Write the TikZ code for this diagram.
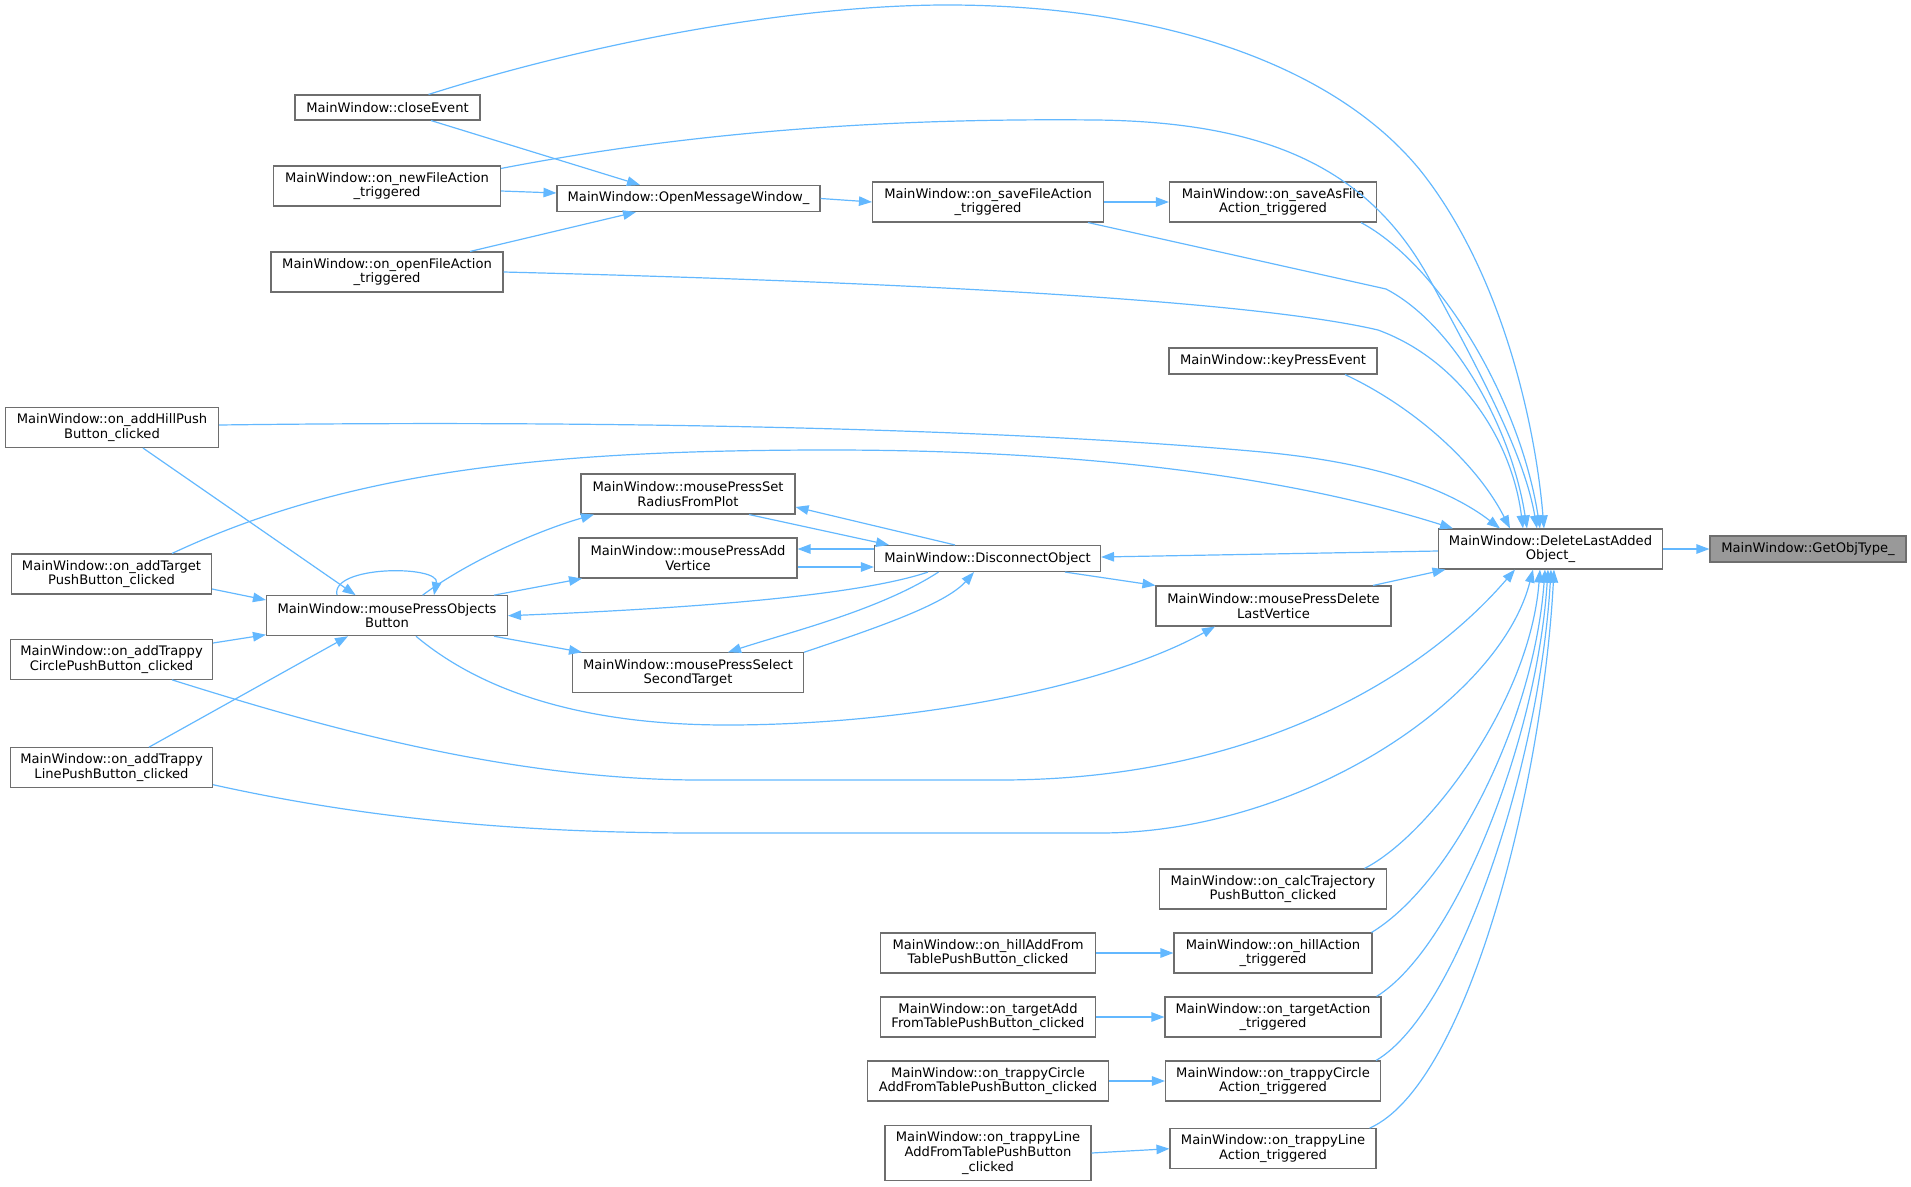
\documentclass[tikz,border=0pt]{standalone}
\usepackage{fontspec}
\setmainfont{DejaVu Sans}
\usetikzlibrary{arrows.meta}
\definecolor{edgec}{HTML}{63B8FF}
\definecolor{bordc}{HTML}{6E6E6E}
\definecolor{rootc}{HTML}{999999}
\begin{document}
\begin{tikzpicture}[x=1pt,y=-1pt,
  fn/.style={draw=bordc, line width=1.1pt, fill=white, inner sep=0pt, align=center,
    font=\fontsize{13.1}{14.6}\selectfont, text=black},
  ed/.style={draw=edgec, line width=1.2pt, -{Triangle[length=13pt,width=9.5pt]}, fill=none}]
\useasboundingbox (0,0) rectangle (1911,1186);
% nodes
\node[fn, fill=rootc, minimum width=196pt, minimum height=26pt] (get) at (1808,549) {MainWindow::GetObjType\_};
\node[fn, minimum width=224pt, minimum height=40pt] (del) at (1550.5,549) {MainWindow::DeleteLastAdded\\Object\_};
\node[fn, minimum width=185pt, minimum height=25pt] (close) at (387.5,107.5) {MainWindow::closeEvent};
\node[fn, minimum width=227pt, minimum height=40pt] (newf) at (387,186) {MainWindow::on\_newFileAction\\\_triggered};
\node[fn, minimum width=263pt, minimum height=26pt] (omw) at (688.5,198.5) {MainWindow::OpenMessageWindow\_};
\node[fn, minimum width=232pt, minimum height=40pt] (openf) at (387,272) {MainWindow::on\_openFileAction\\\_triggered};
\node[fn, minimum width=231pt, minimum height=40pt] (savef) at (988,202) {MainWindow::on\_saveFileAction\\\_triggered};
\node[fn, minimum width=207pt, minimum height=40pt] (saveas) at (1273,202) {MainWindow::on\_saveAsFile\\Action\_triggered};
\node[fn, minimum width=208pt, minimum height=26pt] (key) at (1273,361) {MainWindow::keyPressEvent};
\node[fn, minimum width=213pt, minimum height=40pt] (hill) at (112,427.5) {MainWindow::on\_addHillPush\\Button\_clicked};
\node[fn, minimum width=214pt, minimum height=40pt] (radius) at (688,494) {MainWindow::mousePressSet\\RadiusFromPlot};
\node[fn, minimum width=218pt, minimum height=40pt] (addv) at (688,558) {MainWindow::mousePressAdd\\Vertice};
\node[fn, minimum width=226pt, minimum height=26pt] (disc) at (987.5,558.5) {MainWindow::DisconnectObject};
\node[fn, minimum width=200pt, minimum height=40pt] (target) at (111.5,574) {MainWindow::on\_addTarget\\PushButton\_clicked};
\node[fn, minimum width=241pt, minimum height=40pt] (objb) at (387,615.7) {MainWindow::mousePressObjects\\Button};
\node[fn, minimum width=235pt, minimum height=40pt] (delv) at (1273.5,606) {MainWindow::mousePressDelete\\LastVertice};
\node[fn, minimum width=202pt, minimum height=40pt] (tcircle) at (111.5,659.3) {MainWindow::on\_addTrappy\\CirclePushButton\_clicked};
\node[fn, minimum width=231pt, minimum height=40pt] (select) at (688,672.8) {MainWindow::mousePressSelect\\SecondTarget};
\node[fn, minimum width=202pt, minimum height=40pt] (tline) at (111.5,767.7) {MainWindow::on\_addTrappy\\LinePushButton\_clicked};
\node[fn, minimum width=227pt, minimum height=40pt] (calc) at (1273,889) {MainWindow::on\_calcTrajectory\\PushButton\_clicked};
\node[fn, minimum width=215pt, minimum height=40pt] (hilltab) at (988,953) {MainWindow::on\_hillAddFrom\\TablePushButton\_clicked};
\node[fn, minimum width=198pt, minimum height=40pt] (hilla) at (1273,953) {MainWindow::on\_hillAction\\\_triggered};
\node[fn, minimum width=215pt, minimum height=40pt] (targtab) at (988,1017) {MainWindow::on\_targetAdd\\FromTablePushButton\_clicked};
\node[fn, minimum width=216pt, minimum height=40pt] (targa) at (1273,1017) {MainWindow::on\_targetAction\\\_triggered};
\node[fn, minimum width=241pt, minimum height=40pt] (tctab) at (988,1081) {MainWindow::on\_trappyCircle\\AddFromTablePushButton\_clicked};
\node[fn, minimum width=215pt, minimum height=40pt] (tca) at (1273,1081) {MainWindow::on\_trappyCircle\\Action\_triggered};
\node[fn, minimum width=206pt, minimum height=55pt] (tltab) at (988,1153) {MainWindow::on\_trappyLine\\AddFromTablePushButton\\\_clicked};
\node[fn, minimum width=206pt, minimum height=40pt] (tla) at (1273,1148.7) {MainWindow::on\_trappyLine\\Action\_triggered};
% edges
\draw[ed] (del.east) -- (get.west);
\draw[ed] ([xshift=41pt]close.north) .. controls (600,40) and (800,5) .. (947,5) .. controls (1150,5) and (1330,60) .. (1420,170) .. controls (1500,270) and (1535,420) .. ([xshift=-6.5pt]del.north);
\draw[ed] ([yshift=-3pt]newf.north east) .. controls (700,130) and (900,118) .. (1096,120) .. controls (1270,122) and (1370,170) .. (1430,280) .. controls (1490,390) and (1525,460) .. ([xshift=-13.5pt]del.north);
\draw[ed] ([xshift=100pt]savef.south) -- (1386,289) .. controls (1455,325) and (1512,430) .. ([xshift=-23.5pt]del.north);
\draw[ed] ([xshift=88pt]saveas.south) .. controls (1440,265) and (1520,400) .. ([xshift=-10.5pt]del.north);
\draw[ed] (openf.east) .. controls (900,282) and (1250,300) .. (1378,330) .. controls (1460,360) and (1512,440) .. ([xshift=-27.5pt]del.north);
\draw[ed] ([xshift=72pt]key.south) .. controls (1410,405) and (1475,460) .. ([xshift=-40.5pt]del.north);
\draw[ed] ([yshift=2.5pt]hill.east) .. controls (600,420) and (1000,428) .. (1262,452) .. controls (1380,463) and (1450,490) .. ([xshift=-50.5pt]del.north);
\draw[ed] ([xshift=60.5pt]target.north) .. controls (350,470) and (550,450) .. (830,450) .. controls (1100,450) and (1300,480) .. ([xshift=-97.5pt]del.north);
\draw[ed] ([xshift=60.5pt]tcircle.south) .. controls (300,720) and (500,780) .. (700,780) -- (1000,780) .. controls (1250,780) and (1420,680) .. ([xshift=-35.5pt]del.south);
\draw[ed] ([yshift=-17pt]tline.east) .. controls (350,815) and (500,833) .. (700,833) -- (1100,833) .. controls (1300,833) and (1500,700) .. ([xshift=-17.5pt]del.south);
\draw[ed] ([xshift=29pt]objb.south) .. controls (480,690) and (580,725) .. (727,725) .. controls (900,725) and (1100,690) .. ([xshift=-58.5pt]delv.south);
\draw[ed] ([xshift=91.5pt]calc.north) .. controls (1430,835) and (1530,700) .. ([xshift=-10.5pt]del.south);
\draw[ed] ([xshift=-1pt]hilla.north east) .. controls (1453,883) and (1534,720) .. ([xshift=-5.5pt]del.south);
\draw[ed] ([xshift=-5pt]targa.north east) .. controls (1456,947) and (1537,740) .. ([xshift=-2.5pt]del.south);
\draw[ed] ([xshift=-5pt]tca.north east) .. controls (1460,1011) and (1540,760) .. ([xshift=0.5pt]del.south);
\draw[ed] ([xshift=-7pt]tla.north east) .. controls (1469,1084) and (1543,780) .. ([xshift=3.5pt]del.south);
\draw[ed] ([xshift=31pt]hill.south) -- ([xshift=-31.4pt]objb.north);
\draw[ed] ([xshift=-50pt]objb.north) .. controls (330,565) and (440,565) .. ([xshift=47pt]objb.north);
\draw[ed] ([yshift=-15pt]target.east) -- ([yshift=15.7pt]objb.west);
\draw[ed] ([yshift=16.3pt]tcircle.east) -- ([yshift=-19pt]objb.west);
\draw[ed] ([xshift=37.5pt]tline.north) -- ([xshift=-39pt]objb.south);
\draw[ed] ([xshift=35.6pt]objb.north) .. controls (470,560) and (540,530) .. ([xshift=-94pt]radius.south);
\draw[ed] ([xshift=107pt]objb.north) -- ([xshift=-106pt]addv.south);
\draw[ed] ([xshift=107pt]objb.south) -- ([xshift=-106pt]select.north);
\draw[ed] ([xshift=-59.5pt]disc.south) .. controls (860,595) and (700,608) .. (objb.east);
\draw[ed] ([xshift=-32.5pt]disc.north) -- ([yshift=-13pt]radius.east);
\draw[ed] ([xshift=61pt]radius.south) -- ([xshift=-98.5pt]disc.north);
\draw[ed] ([yshift=9.5pt]disc.west) -- ([yshift=9pt]addv.east);
\draw[ed] ([yshift=-9pt]addv.east) -- ([yshift=-8.5pt]disc.west);
\draw[ed] ([xshift=-49pt]disc.south) .. controls (880,610) and (790,632) .. ([xshift=40pt]select.north);
\draw[ed] (select.north east) .. controls (870,630) and (945,605) .. ([xshift=-13.5pt]disc.south);
\draw[ed] ([xshift=77.5pt]disc.south) -- (delv.north west);
\draw[ed] ([yshift=-2pt]del.west) -- ([yshift=1.5pt]disc.east);
\draw[ed] ([xshift=99.5pt]delv.north) -- ([xshift=-105pt]del.south);
\draw[ed] ([xshift=43.5pt]close.south) -- ([xshift=-48.5pt]omw.north);
\draw[ed] ([yshift=-5pt]newf.east) -- ([yshift=5.5pt]omw.west);
\draw[ed] ([xshift=83pt]openf.north) -- ([xshift=-52.5pt]omw.south);
\draw[ed] (omw.east) -- (savef.west);
\draw[ed] (savef.east) -- (saveas.west);
\draw[ed] (hilltab.east) -- (hilla.west);
\draw[ed] (targtab.east) -- (targa.west);
\draw[ed] (tctab.east) -- (tca.west);
\draw[ed] (tltab.east) -- (tla.west);
\end{tikzpicture}
\end{document}
